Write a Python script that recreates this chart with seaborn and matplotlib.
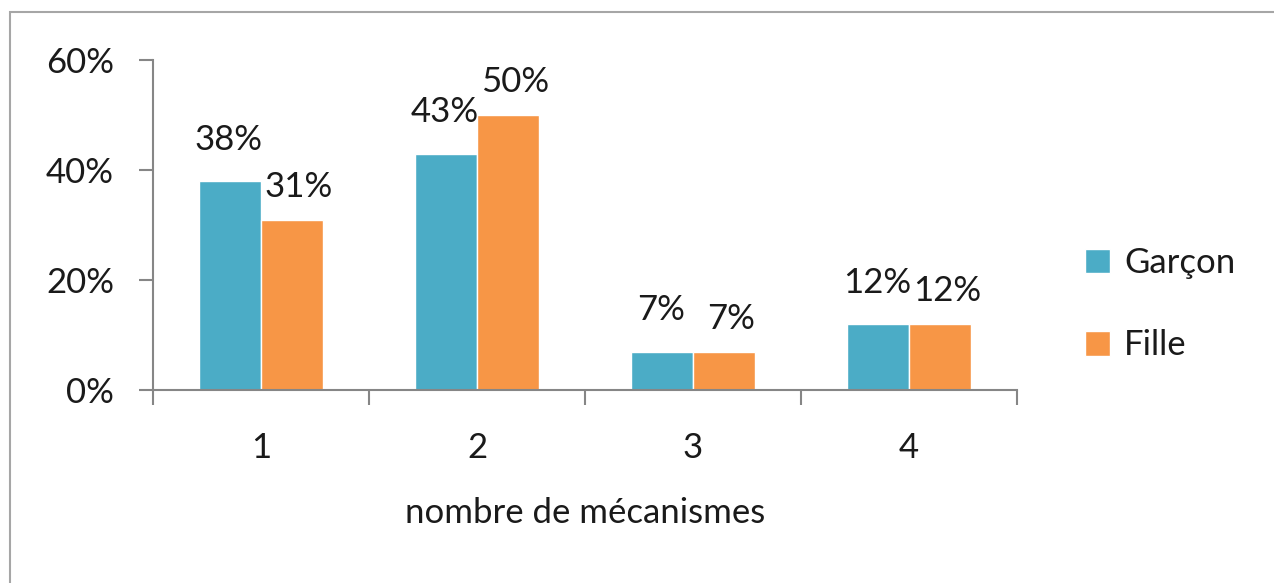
import pandas as pd
import matplotlib.pyplot as plt
import seaborn as sns
from matplotlib.patches import Rectangle
from matplotlib.ticker import PercentFormatter

# Data
categories = ['1', '2', '3', '4']
garcon = [38, 43, 7, 12]
fille = [31, 50, 7, 12]
series_names = ['Garçon', 'Fille']

df = pd.DataFrame({
    'mecanismes': categories * 2,
    'valeur': garcon + fille,
    'sexe': [series_names[0]] * 4 + [series_names[1]] * 4,
})

sns.set_style('white')
plt.rcParams['font.family'] = ['Lato', 'DejaVu Sans']

fig = plt.figure(figsize=(12.74, 5.83), dpi=100)
ax = fig.add_axes([153 / 1274, 1 - 390 / 583, (1017 - 153) / 1274, 330 / 583])

# outer chart border (only left / top visible in the reference)
fig.patches.append(Rectangle((10 / 1274, -0.1), 1.2, 1 - 12 / 583 + 0.1,
                             transform=fig.transFigure, fill=False,
                             edgecolor='#A6A6A6', linewidth=1.5))

sns.barplot(data=df, x='mecanismes', y='valeur', hue='sexe',
            palette=['#4BACC6', '#F79646'], width=0.57, saturation=1,
            ax=ax, legend=True)

fs = 25
# Garçon labels sit a little higher, Fille labels a little to the right (like Excel)
nudges = [(-1, 18), (5, 12)]
for cont, (dx, dy) in zip(ax.containers, nudges):
    for bar in cont:
        h = bar.get_height()
        ax.annotate(f'{h:.0f}%', (bar.get_x() + bar.get_width() / 2, h),
                    xytext=(dx, dy), textcoords='offset points',
                    ha='center', va='bottom', fontsize=fs, color='#1a1a1a')

ax.set_ylim(0, 60)
ax.set_yticks([0, 20, 40, 60])
ax.yaxis.set_major_formatter(PercentFormatter(decimals=0))
ax.set_xlim(-0.5, 3.5)

# ticks on category boundaries
ax.set_xticks([-0.5, 0.5, 1.5, 2.5, 3.5], minor=False)
ax.set_xticklabels([])
ax.set_xticks(range(4), minor=True)
ax.set_xticklabels(categories, minor=True)
ax.tick_params(axis='x', which='major', direction='out', length=11, width=1.5,
               color='#868686', bottom=True)
ax.tick_params(axis='x', which='minor', length=0, labelsize=fs, pad=30,
               labelcolor='#1a1a1a')
ax.tick_params(axis='y', direction='out', length=10, width=1.5,
               color='#868686', left=True, labelsize=fs, pad=18,
               labelcolor='#1a1a1a')

for side in ['top', 'right']:
    ax.spines[side].set_visible(False)
for side in ['left', 'bottom']:
    ax.spines[side].set_color('#868686')
    ax.spines[side].set_linewidth(1.5)

ax.set_ylabel('')
ax.set_xlabel('nombre de mécanismes', fontsize=fs, color='#1a1a1a', labelpad=24)

leg = ax.legend(loc='center left', bbox_to_anchor=(1.043, 0.26), frameon=False,
                fontsize=fs, handlelength=0.72, handleheight=0.72,
                handletextpad=0.4, labelspacing=1.45)
for t in leg.get_texts():
    t.set_color('#1a1a1a')

fig.savefig('out.png', dpi=100)
